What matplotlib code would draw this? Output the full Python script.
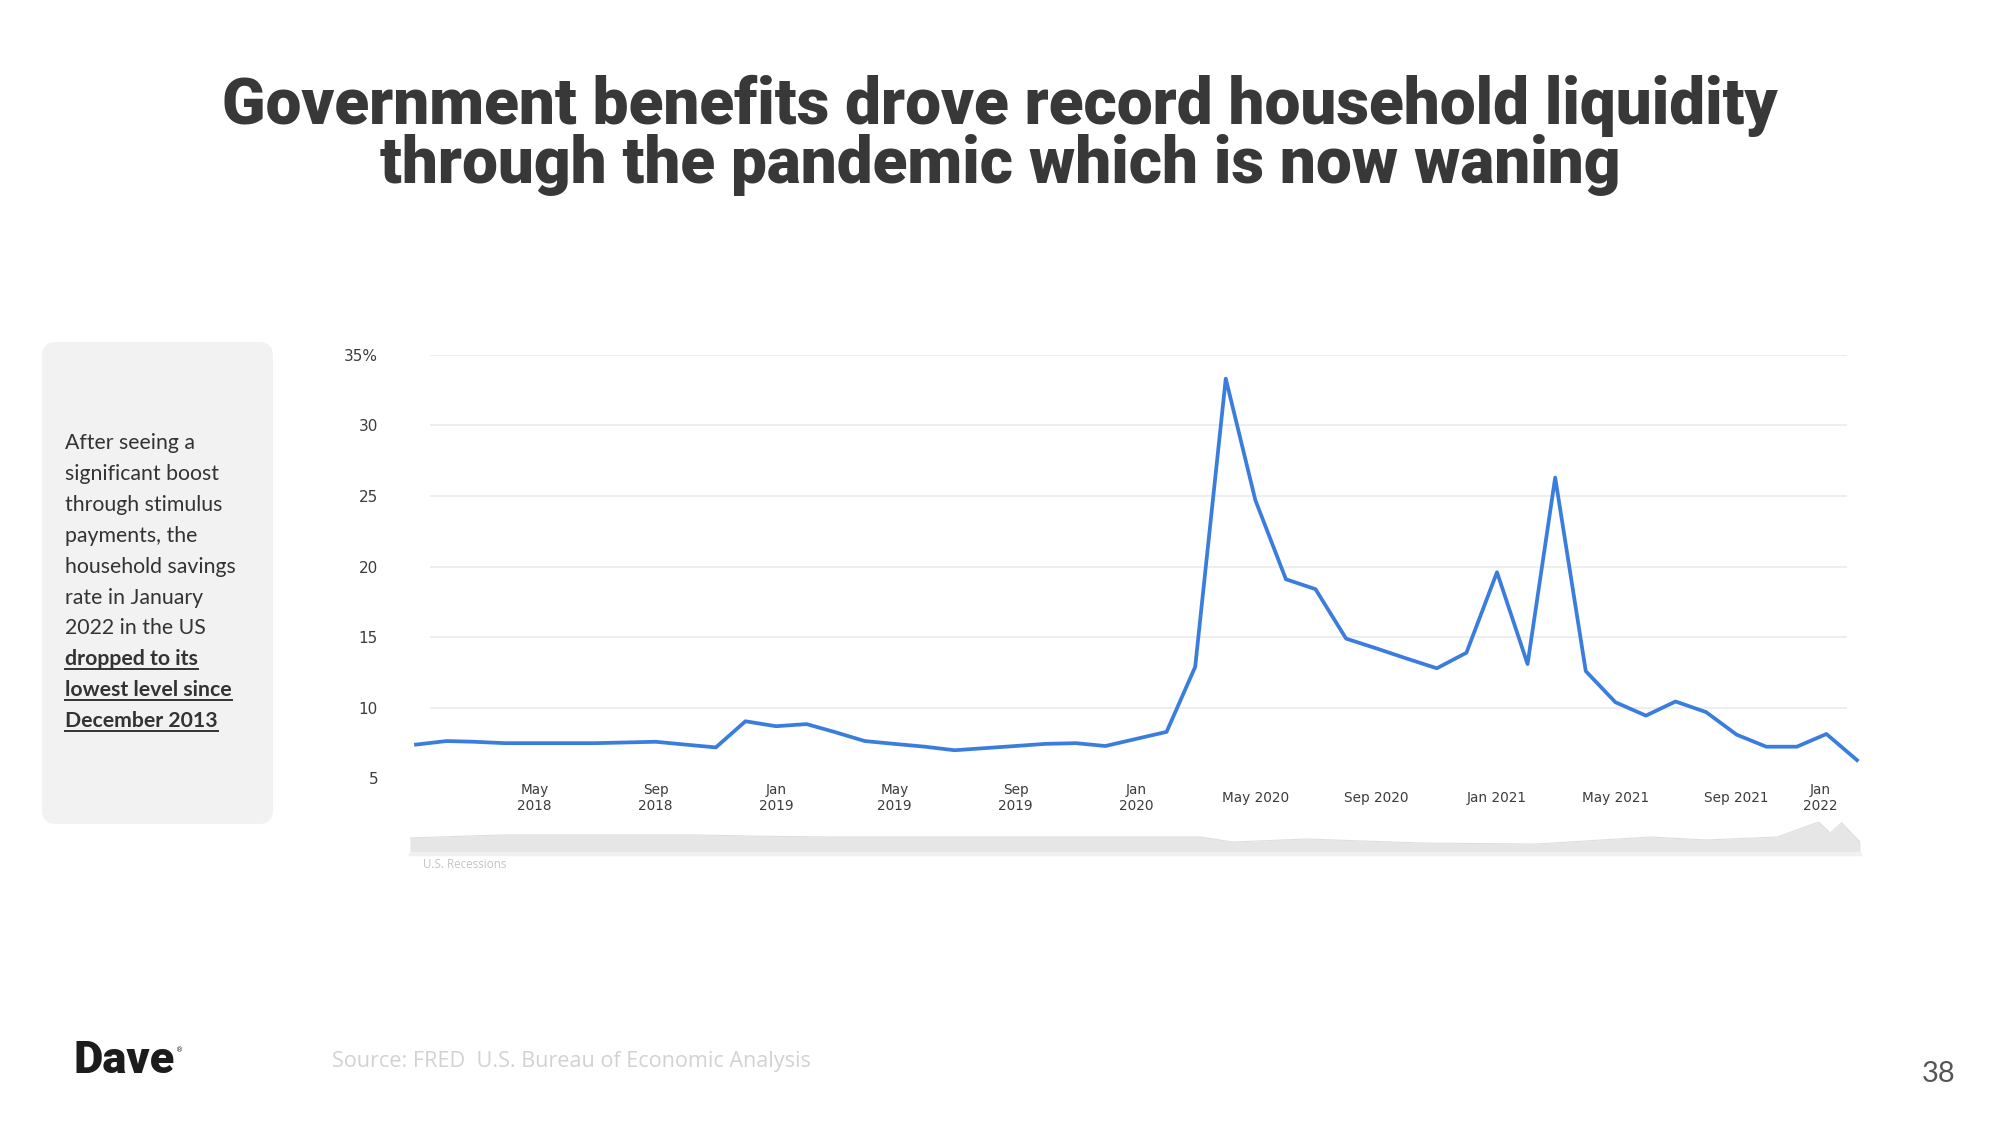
import numpy as np
import pandas as pd
import matplotlib
matplotlib.use('Agg')
import matplotlib.pyplot as plt
import matplotlib.dates as mdates
import matplotlib.transforms as mtransforms
from matplotlib.patches import FancyBboxPatch

W, H = 2000, 1125

# Personal saving rate (%), monthly, Jan 2018 - Jan 2022
months = pd.date_range('2018-01-01', '2022-01-01', freq='MS')
saving_rate = [
    7.4, 7.65, 7.6, 7.5, 7.5, 7.5, 7.5, 7.55, 7.6, 7.4, 7.2, 9.05,       # 2018
    8.7, 8.85, 8.3, 7.65, 7.45, 7.25, 7.0, 7.15, 7.3, 7.45, 7.5, 7.3,    # 2019
    7.8, 8.3, 12.9, 33.3, 24.7, 19.1, 18.4, 14.9, 14.2, 13.5, 12.8, 13.9,  # 2020
    19.6, 13.1, 26.3, 12.6, 10.4, 9.45, 10.45, 9.7, 8.1, 7.25, 7.25, 8.15,  # 2021
    6.3,                                                                 # 2022
]

tick_dates = ['2018-05-01', '2018-09-01', '2019-01-01', '2019-05-01', '2019-09-01',
              '2020-01-01', '2020-05-01', '2020-09-01', '2021-01-01', '2021-05-01',
              '2021-09-01', '2022-01-01']
tick_labels = ['May\n2018', 'Sep\n2018', 'Jan\n2019', 'May\n2019', 'Sep\n2019',
               'Jan\n2020', 'May 2020', 'Sep 2020', 'Jan 2021', 'May 2021',
               'Sep 2021', 'Jan\n2022']
y_ticks = [5, 10, 15, 20, 25, 30, 35]
y_labels = ['5', '10', '15', '20', '25', '30', '35%']

# navigator strip (long history)
nav_years = [1959, 1963, 1967, 1971.6, 1974, 1977.4, 1981.3, 1990.8, 1993.4, 1994.8,
             1998, 2003, 2008, 2013, 2015.4, 2018.5, 2020.3, 2020.8, 2021.3, 2022.1]
nav_values = [15.9, 19.3, 19.3, 19.3, 18, 17, 17, 17, 17, 11.3,
              14.7, 10.2, 9, 17, 13.6, 17, 34, 21.5, 33, 11.3]

side_lines = ['After seeing a', 'significant boost', 'through stimulus', 'payments, the',
              'household savings', 'rate in January', '2022 in the US']
side_bold = ['dropped to its', 'lowest level since', 'December 2013']

title_lines = ['Government benefits drove record household liquidity',
               'through the pandemic which is now waning']
source = 'Source: FRED  U.S. Bureau of Economic Analysis'

HEAVY = ['Roboto', 'Lato', 'DejaVu Sans']

fig = plt.figure(figsize=(20, 11.25), dpi=100)
bg = fig.add_axes([0, 0, 1, 1])
bg.set_xlim(0, W)
bg.set_ylim(H, 0)
bg.axis('off')
renderer = fig.canvas.get_renderer()


def px_axes(l, t, r, b):
    return fig.add_axes([l / W, 1 - b / H, (r - l) / W, (b - t) / H])


def fit(t, width):
    bb = t.get_window_extent(renderer)
    t.set_fontsize(t.get_fontsize() * width / bb.width)


# Title
t1 = bg.text(1000, 124, title_lines[0], ha='center', va='baseline', fontsize=40,
              family=HEAVY, weight='black', color='#383838')
fit(t1, 1555)
t2 = bg.text(1000, 183, title_lines[1], ha='center', va='baseline',
             fontsize=t1.get_fontsize(), family=HEAVY,
             weight='black', color='#383838')

# Sidebar
bg.add_patch(FancyBboxPatch((42, 342), 231, 482, boxstyle='round,pad=0,rounding_size=14',
                            fc='#f2f2f2', ec='none'))
probe = bg.text(65, 573, side_lines[4], fontsize=15, family='Lato', color='#333333')
fit(probe, 171)
fs = probe.get_fontsize()
probe.remove()
y0 = 449
for i, s in enumerate(side_lines + side_bold):
    bold = s in side_bold
    t = bg.text(65, y0 + i * 30.9, s, ha='left', va='baseline', fontsize=fs,
                family='Lato', weight='bold' if bold else 'normal', color='#333333')
    if bold:
        bb = t.get_window_extent(renderer)
        bg.plot([65, 65 + bb.width], [y0 + i * 30.9 + 3.5] * 2, color='#333333', lw=1.4)

# Main chart
ax = px_axes(400, 354.6, 1870, 778.5)
x0 = mdates.date2num(pd.Timestamp('2018-01-01'))
dpp = 1461 / 1441
ax.set_xlim(x0 - 16 * dpp, x0 + 1461 + 13 * dpp)
ax.set_ylim(5, 35)
ax.hlines(y_ticks[1:], pd.Timestamp('2018-01-15'), pd.Timestamp('2021-12-22'),
          color='#ebebeb', lw=1.2, zorder=1)
ax.plot(months, saving_rate, color='#3b7ddd', lw=2.7, zorder=3, clip_on=False)
for s in ax.spines.values():
    s.set_visible(False)
ax.set_xticks([])
ax.set_yticks(y_ticks)
ax.set_yticklabels(y_labels, fontsize=11, color='#3c3c3c')
ax.tick_params(axis='y', length=0, pad=15.8)
for lbl in ax.get_yticklabels():
    lbl.set_fontweight('medium')

trans = mtransforms.blended_transform_factory(ax.transData, ax.transAxes)
ylab = -19.5 / 423.9
for i, (d, lab) in enumerate(zip(tick_dates, tick_labels)):
    tr = trans
    if i == len(tick_dates) - 1:
        tr = mtransforms.offset_copy(trans, fig=fig, x=-37, y=0, units='dots')
    ax.text(pd.Timestamp(d), ylab, lab, transform=tr, ha='center', va='center',
            fontsize=9.8, color='#3c3c3c', linespacing=1.25)

# Navigator
nav = px_axes(410, 822, 1860, 852)
nav.fill_between(nav_years, nav_values, 0, color='#e6e6e6', lw=0)
nav.plot(nav_years, nav_values, color='#dedede', lw=0.8)
nav.set_xlim(nav_years[0], nav_years[-1])
nav.set_ylim(0, 34)
nav.axis('off')
bg.plot([410, 1860], [853.5, 853.5], color='#f0f0f0', lw=2.5)
bg.text(423, 864, 'U.S. Recessions', ha='left', va='center', fontsize=8.4,
        family='Open Sans', color='#c4c4c4')

# Footer
src = bg.text(332, 1061, source, ha='left', va='center', fontsize=14,
              family='Open Sans', color='#d2d2d2')
fit(src, 480)
logo = bg.text(74, 1073, 'Dave', ha='left', va='baseline', fontsize=24,
               family=HEAVY, weight='black', color='#1c1c1c')
fit(logo, 101)
bg.text(176, 1047, '\u00ae', ha='left', va='top', fontsize=5, color='#1c1c1c')
bg.text(1939, 1074, '38', ha='center', va='center', fontsize=21,
        family='Lato', color='#555555')

fig.savefig('out.png', dpi=100)
